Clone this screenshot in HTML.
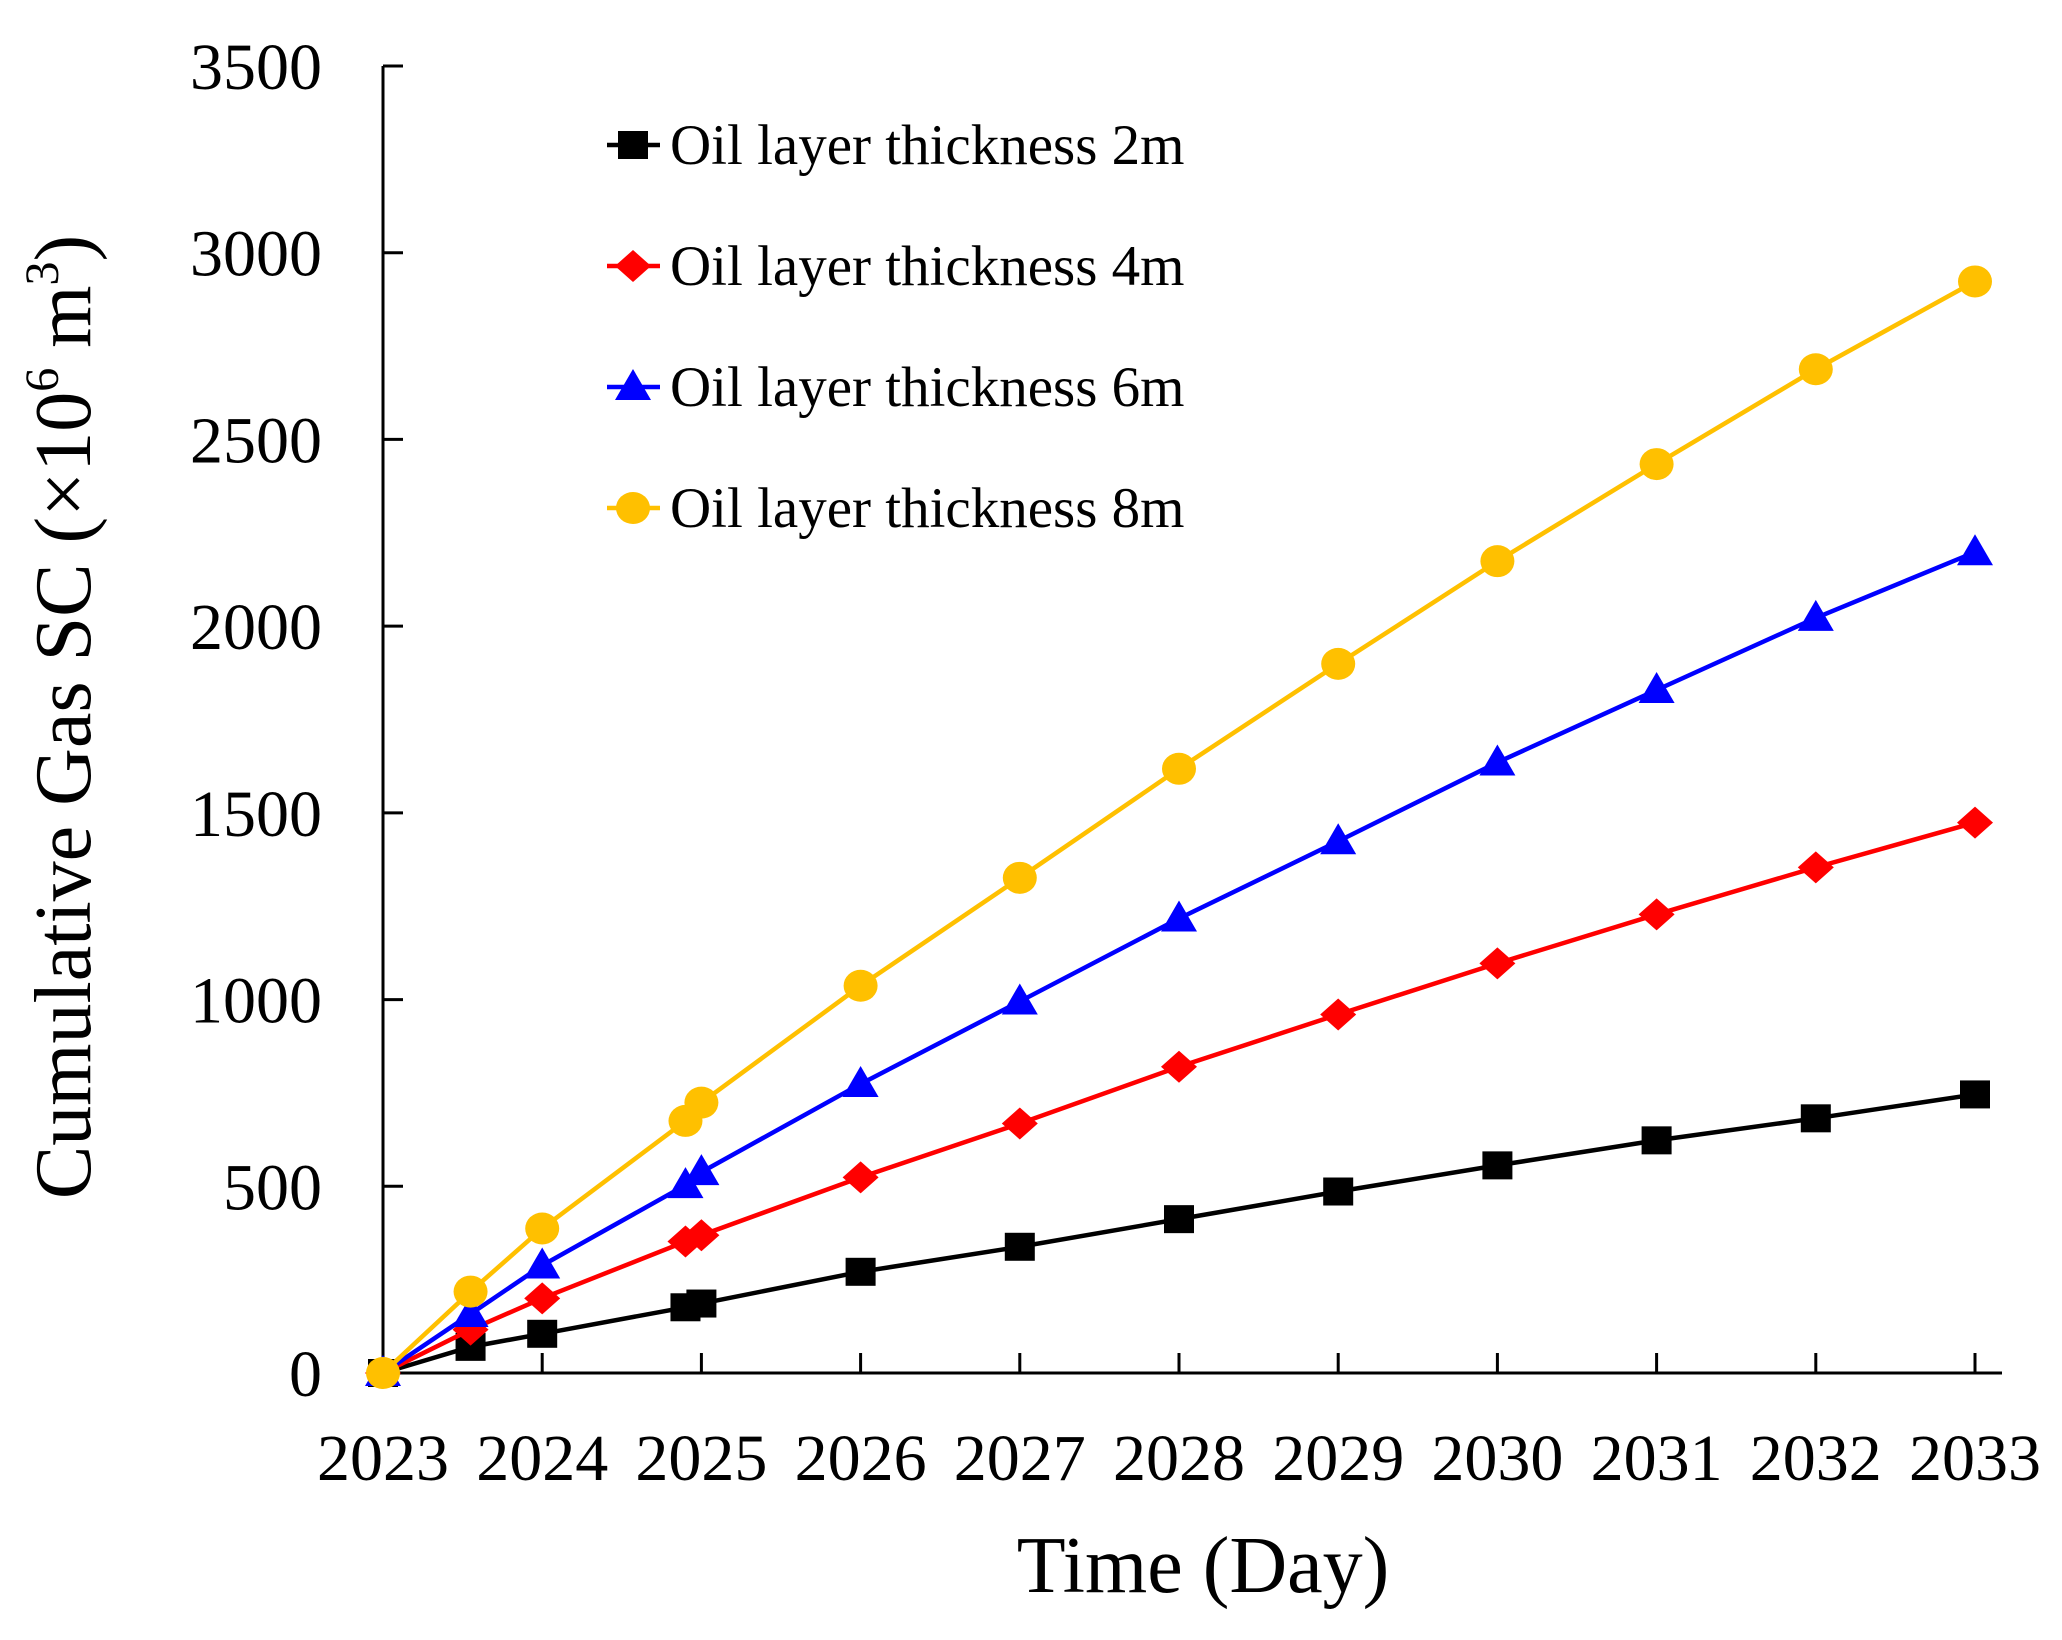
<!DOCTYPE html>
<html><head><meta charset="utf-8"><style>
html,body{margin:0;padding:0;background:#fff;}
svg text{font-family:"Liberation Serif",serif;fill:#000;}
</style></head><body>
<svg id="chart" width="2062" height="1635" viewBox="0 0 2062 1635" xmlns="http://www.w3.org/2000/svg">
<g id="axes"></g>
<g id="series"></g>
<g id="legend"></g>
<text x="1203" y="1592" font-size="80" text-anchor="middle">Time (Day)</text>
<text transform="translate(90,717) rotate(-90)" font-size="80" text-anchor="middle">Cumulative Gas SC (×10<tspan font-size="48" dy="-32">6</tspan><tspan dy="32"> m</tspan><tspan font-size="48" dy="-32">3</tspan><tspan dy="32">)</tspan></text>
</svg>
<script>
const xValues=[2023,2023.55,2024,2024.9,2025,2026,2027,2028,2029,2030,2031,2032,2033];
const series2m=[0,70,105,176,186,271,338,412,486,556,623,682,746];
const series4m=[0,116,200,352,369,524,668,820,960,1097,1228,1354,1474];
const series6m=[0,158,288,503,538,774,995,1217,1424,1635,1829,2022,2198];
const series8m=[0,218,387,675,724,1037,1326,1618,1899,2174,2434,2688,2923];
const xTicks=[2023,2024,2025,2026,2027,2028,2029,2030,2031,2032,2033];
const yTicks=[0,500,1000,1500,2000,2500,3000,3500];
const legendLabels=["Oil layer thickness 2m","Oil layer thickness 4m","Oil layer thickness 6m","Oil layer thickness 8m"];

const NS="http://www.w3.org/2000/svg";
const X0=383,X1=1975,Y0=1373,Y1=66;
function sx(v){return X0+(v-2023)/10*(X1-X0);}
function sy(v){return Y0-v/3500*(Y0-Y1);}
function mk(tag,attrs,parent){const e=document.createElementNS(NS,tag);for(const k in attrs)e.setAttribute(k,attrs[k]);parent.appendChild(e);return e;}
const axes=document.getElementById('axes');
let e=mk('line',{x1:X0,y1:Y1,x2:X0,y2:Y0,stroke:'#000','stroke-width':3},axes);


e=mk('line',{x1:X0,y1:Y0,x2:2002,y2:Y0,stroke:'#000','stroke-width':3},axes);


yTicks.forEach(t=>{
  const y=sy(t);
  let l=mk('line',{x1:X0,y1:y,x2:X0+20,y2:y,stroke:'#000','stroke-width':3},axes);
  
  
  let tx=mk('text',{x:322,y:y+23,'font-size':66,'text-anchor':'end'},axes);
  tx.textContent=t;
  
  
});
xTicks.forEach(t=>{
  const x=sx(t);
  let l=mk('line',{x1:x,y1:Y0,x2:x,y2:Y0-20,stroke:'#000','stroke-width':3},axes);
  
  
  let tx=mk('text',{x:x,y:1480,'font-size':66,'text-anchor':'middle'},axes);
  tx.textContent=t;
  
  
});
function marker(kind,x,y,color,g){
  let m;
  if(kind==='square')m=mk('rect',{x:x-15,y:y-14,width:30,height:28,fill:color},g);
  else if(kind==='diamond')m=mk('polygon',{points:`${x},${y-16} ${x+18},${y} ${x},${y+16} ${x-18},${y}`,fill:color},g);
  else if(kind==='triangle')m=mk('polygon',{points:`${x},${y-18} ${x+18},${y+13} ${x-18},${y+13}`,fill:color},g);
  else m=mk('ellipse',{cx:x,cy:y,rx:17,ry:16,fill:color},g);
  return m;
}
const defs=[[series2m,'#000','square','series-2m'],[series4m,'#ff0000','diamond','series-4m'],[series6m,'#0000ff','triangle','series-6m'],[series8m,'#ffc000','circle','series-8m']];
const sg=document.getElementById('series');
defs.forEach(([vals,color,kind,name])=>{
  const g=mk('g',{},sg);
  
  
  const p=mk('polyline',{points:vals.map((v,i)=>sx(xValues[i])+','+sy(v)).join(' '),fill:'none',stroke:color,'stroke-width':4.5},g);
  
  
  vals.forEach((v,i)=>{
    const m=marker(kind,sx(xValues[i]),sy(v),color,g);
    
    
  });
});
const lg=document.getElementById('legend');
legendLabels.forEach((lab,i)=>{
  const y=145+i*121;
  const g=mk('g',{},lg);
  
  
  mk('line',{x1:607,y1:y,x2:660,y2:y,stroke:defs[i][1],'stroke-width':4.5},g);
  marker(defs[i][2],633,y,defs[i][1],g);
  const t=mk('text',{x:670,y:y+19,'font-size':57},g);
  t.textContent=lab;
  
  
});
</script>
</body></html>
